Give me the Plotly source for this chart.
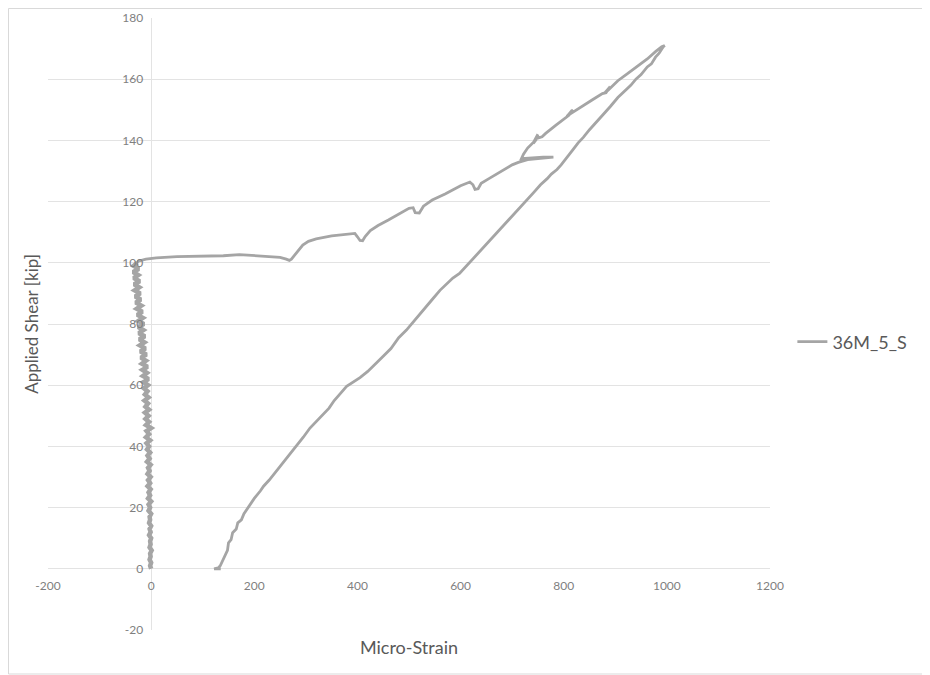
import plotly.graph_objects as go

# ---- Data ----
# Segment 1: initial loading, strain stays near zero (noisy band), 0 -> 100 kip
rise_y = list(range(0, 101))
rise_x = [0, -2, 0, -3, -1, -2, 1, -3, -1, -2,
          0, -4, -1, -3, 0, -4, -2, -3, 0, -5,
          -2, -5, 0, -6, -2, -5, -1, -7, -2, -6,
          -1, -7, -3, -6, -1, -8, -3, -7, -2, -8,
          -4, -9, -2, -10, -4, -9, 0, -10, -4, -11,
          -5, -12, -4, -11, -6, -13, -5, -12, -7, -14,
          -6, -15, -5, -16, -8, -17, -7, -18, -10, -20,
          -9, -21, -11, -22, -13, -23, -12, -24, -15, -25,
          -14, -25, -16, -27, -17, -28, -19, -30, -20, -31,
          -21, -32, -23, -33, -22, -34, -25, -35, -24, -34,
          -27]

# Segment 2: cracking branch, strain grows with load drops, up to peak
crack_x = [-27, -25, -10, 10, 50, 100, 140, 171, 200, 230, 250, 262, 268, 272, 278,
           285, 294, 305, 320, 350, 385, 395, 400, 405, 410, 415, 425, 440, 460,
           480, 500, 508, 512, 520, 528, 545, 570, 600, 618, 624, 628, 634, 640,
           655, 680, 700, 712, 730, 760, 780, 760, 735, 718, 722, 730, 742, 750,
           741, 752, 745, 758, 765, 785, 800, 810, 818, 806, 816, 812, 830, 855,
           875, 882, 890, 879, 889, 885, 905, 925, 945, 962, 978, 990, 996]
crack_y = [100.0, 100.5, 101.2, 101.6, 102.0, 102.2, 102.3, 102.7, 102.4, 102.2, 101.8,
           101.2, 100.8, 101.2, 102.5, 104.0, 105.8, 107.0, 107.8, 108.8, 109.6,
           109.6, 108.5, 107.3, 107.2, 108.6, 110.5, 112.2, 114.0, 116.0, 117.8,
           118.0, 116.4, 116.3, 118.5, 120.5, 122.5, 125.2, 126.4, 125.5, 124.0,
           124.2, 126.0, 127.5, 130.0, 132.0, 132.8, 133.7, 134.2, 134.5, 134.5,
           134.2, 134.0, 135.5, 137.5, 139.5, 142.0, 139.0, 141.5, 140.5, 141.2,
           142.3, 145.0, 147.0, 148.2, 150.0, 147.8, 149.8, 148.6, 150.6, 153.2,
           155.3, 155.6, 157.6, 155.4, 157.3, 156.2, 159.5, 162.0, 164.5, 166.6,
           169.0, 170.6, 171.0]

# Segment 3: unloading, nearly straight line back to residual strain at 0 kip
unload_x = [993, 985, 978, 970, 962, 950, 940, 930, 918, 905, 890, 875, 862, 850,
            838, 828, 818, 805, 795, 787, 776, 768, 755, 742, 729, 715, 700, 688,
            676, 662, 650, 637, 624, 610, 598, 585, 572, 560, 545, 530, 512, 495,
            480, 465, 450, 437, 420, 405, 392, 379, 368, 355, 345, 333, 320, 308,
            295, 281, 270, 258, 245, 238, 229, 218, 212, 200, 194, 188, 180, 175,
            168, 165, 158, 155, 150, 148, 142, 140, 134, 130, 122, 135]
unload_y = [170.6, 168.5, 167.2, 165.0, 164.0, 161.5, 160.0, 158.0, 156.0, 154.0,
            151.0, 148.2, 146.0, 143.5, 141.0, 139.2, 137.0, 134.0, 132.0, 130.5,
            129.0, 127.5, 125.5, 123.0, 120.6, 118.0, 115.2, 113.0, 110.8, 108.2,
            106.0, 103.5, 101.0, 98.5, 96.5, 95.0, 93.0, 91.0, 88.0, 85.0,
            81.5, 78.0, 75.5, 72.0, 69.5, 67.3, 64.5, 62.5, 61.0, 59.6,
            57.5, 55.0, 52.5, 50.3, 48.0, 46.0, 43.0, 40.0, 37.5, 35.0,
            32.5, 31.0, 29.0, 27.0, 25.5, 23.0, 21.5, 20.0, 18.0, 16.0,
            15.0, 13.0, 11.8, 9.5, 8.5, 6.0, 4.0, 3.0, 1.0, 0.3,
            0.0, 0.0]

series_name = "36M_5_S"
x_ticks = [-200, 0, 200, 400, 600, 800, 1000, 1200]
y_ticks = [-20, 0, 20, 40, 60, 80, 100, 120, 140, 160, 180]

FONT = "Lato"
GRID = "#e3e3e3"
TXT = "#595959"
LINE = "#a5a5a5"

fig = go.Figure()
# noisy near-zero band of the first loading (dense data => thick band)
fig.add_trace(go.Scatter(
    x=rise_x, y=rise_y, mode="lines", name=series_name,
    line=dict(color=LINE, width=4.5), showlegend=False, legendgroup="s",
))
fig.add_trace(go.Scatter(
    x=crack_x + unload_x, y=crack_y + unload_y, mode="lines", name=series_name,
    line=dict(color=LINE, width=2.8), showlegend=True, legendgroup="s",
))

fig.update_layout(
    width=922, height=667,
    margin=dict(l=40, r=160, t=10, b=45),
    paper_bgcolor="white", plot_bgcolor="white",
    font=dict(family=FONT, color=TXT),
    showlegend=True,
    legend=dict(x=1.031, y=0.4706, xanchor="left", yanchor="middle",
                font=dict(family=FONT, size=18, color=TXT),
                bgcolor="rgba(0,0,0,0)", itemwidth=30),
    xaxis=dict(
        range=[-200, 1200], tickvals=x_ticks, ticktext=[str(v) for v in x_ticks],
        showgrid=False, zeroline=True, zerolinecolor=GRID, zerolinewidth=1.2,
        showline=False, ticks="", anchor="free", position=0.1,
        ticklabelstandoff=8,
        tickfont=dict(family=FONT, size=12, color="#7f7f7f"),
        title=dict(text="Micro-Strain", font=dict(family=FONT, size=18, color=TXT),
                   standoff=49),
        automargin=False,
    ),
    yaxis=dict(
        range=[-20, 180], tickvals=y_ticks, ticktext=[str(v) for v in y_ticks],
        showgrid=True, gridcolor=GRID, gridwidth=1.2,
        zeroline=True, zerolinecolor=GRID, zerolinewidth=1.2,
        showline=False, ticks="", anchor="free", position=200/1400,
        ticklabelstandoff=8,
        tickfont=dict(family=FONT, size=12, color="#7f7f7f"),
        title=dict(text="Applied Shear [kip]", font=dict(family=FONT, size=17, color=TXT),
                   standoff=78),
        automargin=False,
    ),
    shapes=[dict(type="rect", xref="paper", yref="paper",
                 x0=-0.0547, x1=1.216, y0=-0.0719, y1=1.0155,
                 line=dict(color="#d9d9d9", width=1), fillcolor="rgba(0,0,0,0)",
                 layer="below")],
)

fig.write_html("out.html", config={"displayModeBar": False})
